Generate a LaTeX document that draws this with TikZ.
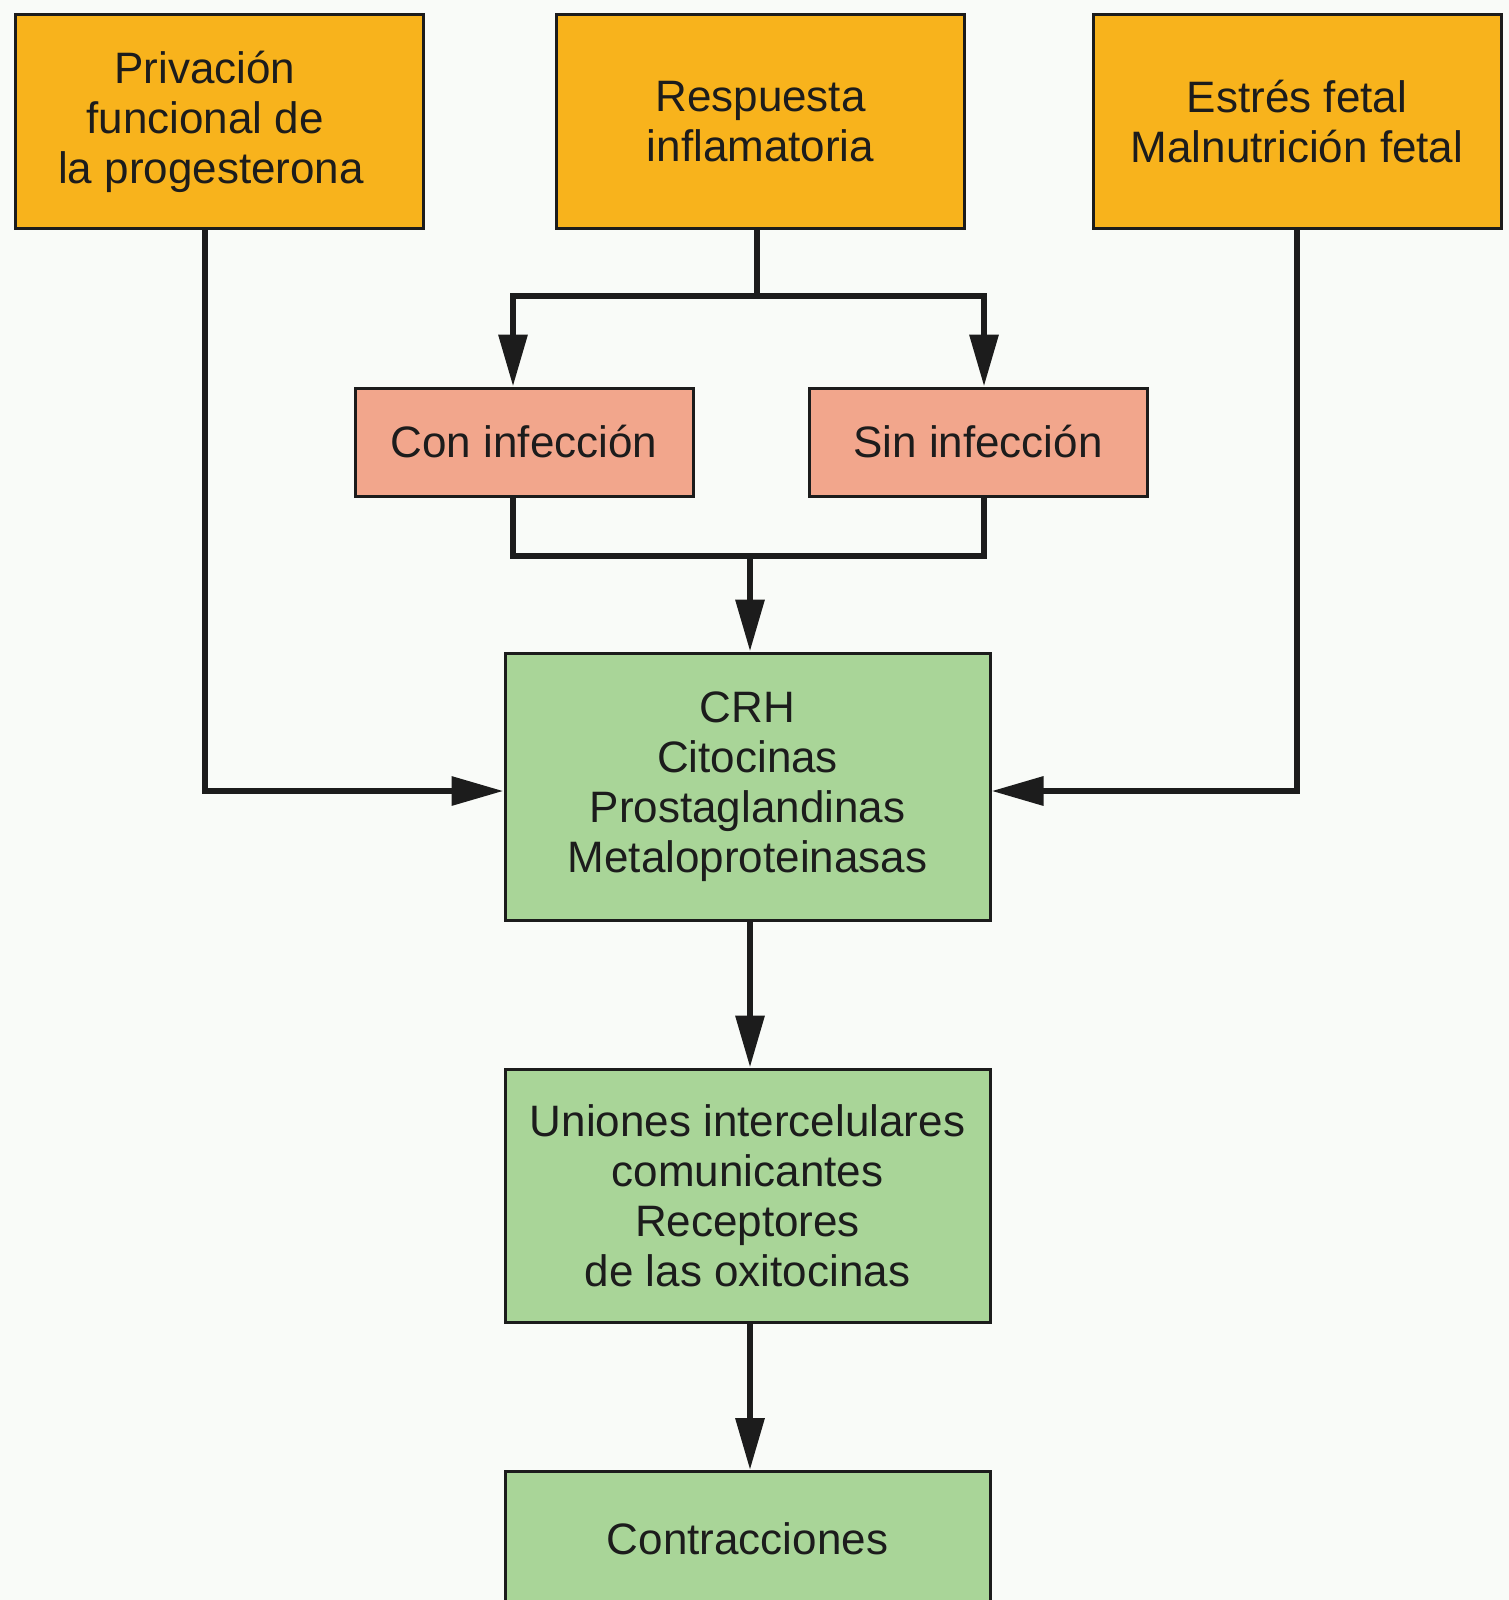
\documentclass[tikz,border=0pt]{standalone}
\usepackage{fontspec}
\setmainfont{Liberation Sans}
\usetikzlibrary{arrows.meta}
\definecolor{bgc}{HTML}{F9FBF8}
\definecolor{orangec}{HTML}{F8B31C}
\definecolor{salmonc}{HTML}{F2A68C}
\definecolor{greenc}{HTML}{A9D598}
\definecolor{inkc}{HTML}{1C1C1C}
\tikzset{
  box/.style={draw=inkc, line width=1.5pt, text=inkc, align=center,
    font=\fontsize{22}{25}\selectfont, inner sep=0pt},
  orangebox/.style={box, fill=orangec, minimum width=204pt, minimum height=106.5pt},
  salmonbox/.style={box, fill=salmonc, minimum width=169pt, minimum height=54pt},
  greenbox/.style={box, fill=greenc, minimum width=242.5pt},
  ln/.style={draw=inkc, line width=3.2pt},
  arr/.style={ln, -{Triangle[length=26pt,width=14pt]}}
}
\begin{document}
\begin{tikzpicture}[x=0.5pt,y=-0.5pt]
\fill[bgc] (0,0) rectangle (1509,1600);
\clip (0,0) rectangle (1509,1600);
\useasboundingbox (0,0) rectangle (1509,1600);
\node[orangebox] (p1) at (219,121.5) {Privación\hbox to 14pt{}\\funcional de\hbox to 14pt{}\\la progesterona\hbox to 8pt{}};
\node[orangebox] (p2) at (760.5,121.5) {Respuesta\\inflamatoria};
\node[orangebox] (p3) at (1297,121.5) {Estrés fetal\\Malnutrición fetal};
\node[salmonbox] (con) at (524,442) {Con infección};
\node[salmonbox] (sin) at (978,442) {Sin infección};
\node[greenbox, minimum height=133.5pt] (g1) at (747.5,786.5) {CRH\\Citocinas\\Prostaglandinas\\Metaloproteinasas};
\node[greenbox, minimum height=126.5pt] (g2) at (747.5,1195.5) {Uniones intercelulares\\comunicantes\\Receptores\\de las oxitocinas};
\node[greenbox, minimum height=75pt, anchor=north] (g3) at (747.5,1470) {};
\node[text=inkc, font=\fontsize{22}{25}\selectfont] (g3t) at (747.5,1539) {Contracciones};
\coordinate (b) at (757,296);
\coordinate (m) at (750,556);
\draw[arr] ([xshift=-7pt]p1.south) |- ([yshift=-2.25pt]g1.west);
\draw[arr] (p3.south) |- ([yshift=-2.25pt]g1.east);
\draw[ln] ([xshift=-1.75pt]p2.south) -- ([xshift=-1.75pt]p2.south |- b);
\draw[arr] ([xshift=-1.75pt]p2.south |- b) -| ([xshift=-5.5pt]con.north);
\draw[arr] ([xshift=-1.75pt]p2.south |- b) -| ([xshift=3pt]sin.north);
\draw[ln] ([xshift=-5.5pt]con.south) |- ([xshift=3pt]sin.south |- m) -- ([xshift=3pt]sin.south);
\draw[arr] ([xshift=1.25pt]g1.north |- m) -- ([xshift=1.25pt]g1.north);
\draw[arr] ([xshift=1.25pt]g1.south) -- ([xshift=1.25pt]g2.north);
\draw[arr] ([xshift=1.25pt]g2.south) -- ([xshift=1.25pt]g3.north);
\end{tikzpicture}
\end{document}
